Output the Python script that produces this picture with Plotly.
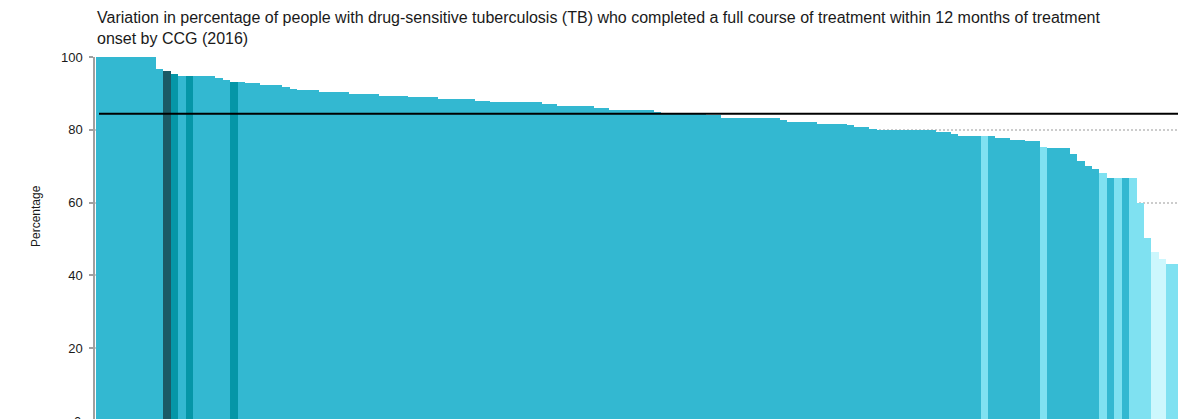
import plotly.graph_objects as go

# Percentage of people with drug-sensitive TB completing treatment within 12 months, by CCG (2016), sorted
completion_pct = [
    100, 100, 100, 100, 100, 100, 100, 100,
    96.7, 96.2, 95.2, 94.7, 94.7, 94.7, 94.7, 94.7,
    94.2, 93.8, 93.2, 93.2, 92.8, 92.8, 92.4, 92.4, 92.4,
    91.7, 91.3, 90.8, 90.8, 90.8,
    90.4, 90.4, 90.4, 90.4,
    89.9, 89.9, 89.9, 89.9,
    89.4, 89.4, 89.4, 89.4,
    89.0, 89.0, 89.0, 89.0,
    88.5, 88.5, 88.5, 88.5, 88.5,
    88.0, 88.0,
    87.5, 87.5, 87.5, 87.5, 87.5, 87.5, 87.5,
    87.1, 87.1,
    86.6, 86.6, 86.6, 86.6, 86.6,
    86.1, 86.1,
    85.5, 85.5, 85.5, 85.5, 85.5, 85.5,
    85.0,
    84.6, 84.6, 84.6, 84.6, 84.6, 84.6,
    84.0, 84.0,
    83.1, 83.1, 83.1, 83.1, 83.1, 83.1, 83.1, 83.1,
    82.6,
    82.2, 82.2, 82.2, 82.2,
    81.7, 81.7, 81.7, 81.7,
    81.3,
    80.7, 80.7,
    80.3,
    79.8, 79.8, 79.8, 79.8, 79.8, 79.8, 79.8, 79.8,
    79.4, 79.4,
    78.8,
    78.3, 78.3, 78.3, 78.3, 78.3,
    77.8, 77.8,
    77.3, 77.3,
    76.9, 76.9,
    75.3,
    74.9, 74.9, 74.9,
    73.4, 71.5, 70.1, 69.2,
    68.2, 66.7, 66.7, 66.7, 66.7,
    60.0, 50.2, 46.4, 44.5, 43.0, 43.0,
]

# Highlight group of each CCG bar
groups = ["other"] * len(completion_pct)
for i in [9]:
    groups[i] = "selected"
for i in [10, 12, 18]:
    groups[i] = "peer"
for i in [119, 127, 135, 137, 139, 140, 141, 144, 145]:
    groups[i] = "small"
for i in [142, 143]:
    groups[i] = "smallest"

england_pct = 84.4

group_colors = {
    "other": "#33b8d1",
    "selected": "#1b5a66",
    "peer": "#0596a7",
    "small": "#7fe1f1",
    "smallest": "#ccf7fd",
}

ccg_index = list(range(len(completion_pct)))

fig = go.Figure()
fig.add_trace(go.Bar(
    x=ccg_index,
    y=completion_pct,
    marker=dict(color=[group_colors[g] for g in groups], line=dict(width=0)),
    hoverinfo="y",
    showlegend=False,
))

# England benchmark line
fig.add_shape(
    type="line", xref="x", yref="y",
    x0=-0.15, x1=len(completion_pct) + 1, y0=england_pct, y1=england_pct,
    line=dict(color="#000000", width=2), layer="above",
)

font_family = "Liberation Sans, Arial, sans-serif"

fig.add_annotation(
    xref="paper", yref="paper", x=0, y=(419 - 7) / 362,
    xanchor="left", yanchor="top", align="left", showarrow=False,
    text=("Variation in percentage of people with drug-sensitive tuberculosis (TB) who completed a full course "
          "of treatment within 12 months of treatment<br>onset by CCG (2016)"),
    font=dict(family=font_family, size=16, color="#1a1a1a"),
)

fig.add_annotation(
    xref="paper", yref="paper", x=0, y=(419 - 216) / 362,
    xshift=-59, xanchor="center", yanchor="middle", textangle=-90, showarrow=False,
    text="Percentage",
    font=dict(family=font_family, size=12, color="#1a1a1a"),
)

# zero tick label sits just below the visible plot area
fig.add_annotation(
    xref="paper", yref="paper", x=0, y=-(421 - 419) / 362,
    xshift=-12, xanchor="right", yanchor="middle", showarrow=False,
    text="0",
    font=dict(family=font_family, size=13, color="#1a1a1a"),
)

fig.update_layout(
    width=1178, height=419,
    margin=dict(l=95, r=0, t=57, b=0, pad=0),
    paper_bgcolor="white", plot_bgcolor="white",
    bargap=0,
    font=dict(family=font_family, size=13, color="#1a1a1a"),
    xaxis=dict(
        range=[-0.688, 145.07], showticklabels=False, showgrid=False,
        zeroline=False, showline=False, ticks="",
    ),
    yaxis=dict(
        range=[0.5, 100], tickvals=[20, 40, 60, 80, 100],
        showgrid=True, gridcolor="#cccccc", griddash="2px,2px", gridwidth=1.5,
        zeroline=False, showline=True, linecolor="#a0a0a0", linewidth=1.5,
        ticks="outside", ticklen=4, tickcolor="#a0a0a0", tickwidth=1.5,
        ticklabelstandoff=4,
        tickfont=dict(family=font_family, size=13, color="#1a1a1a"),
    ),
)

fig.write_html("out.html")
